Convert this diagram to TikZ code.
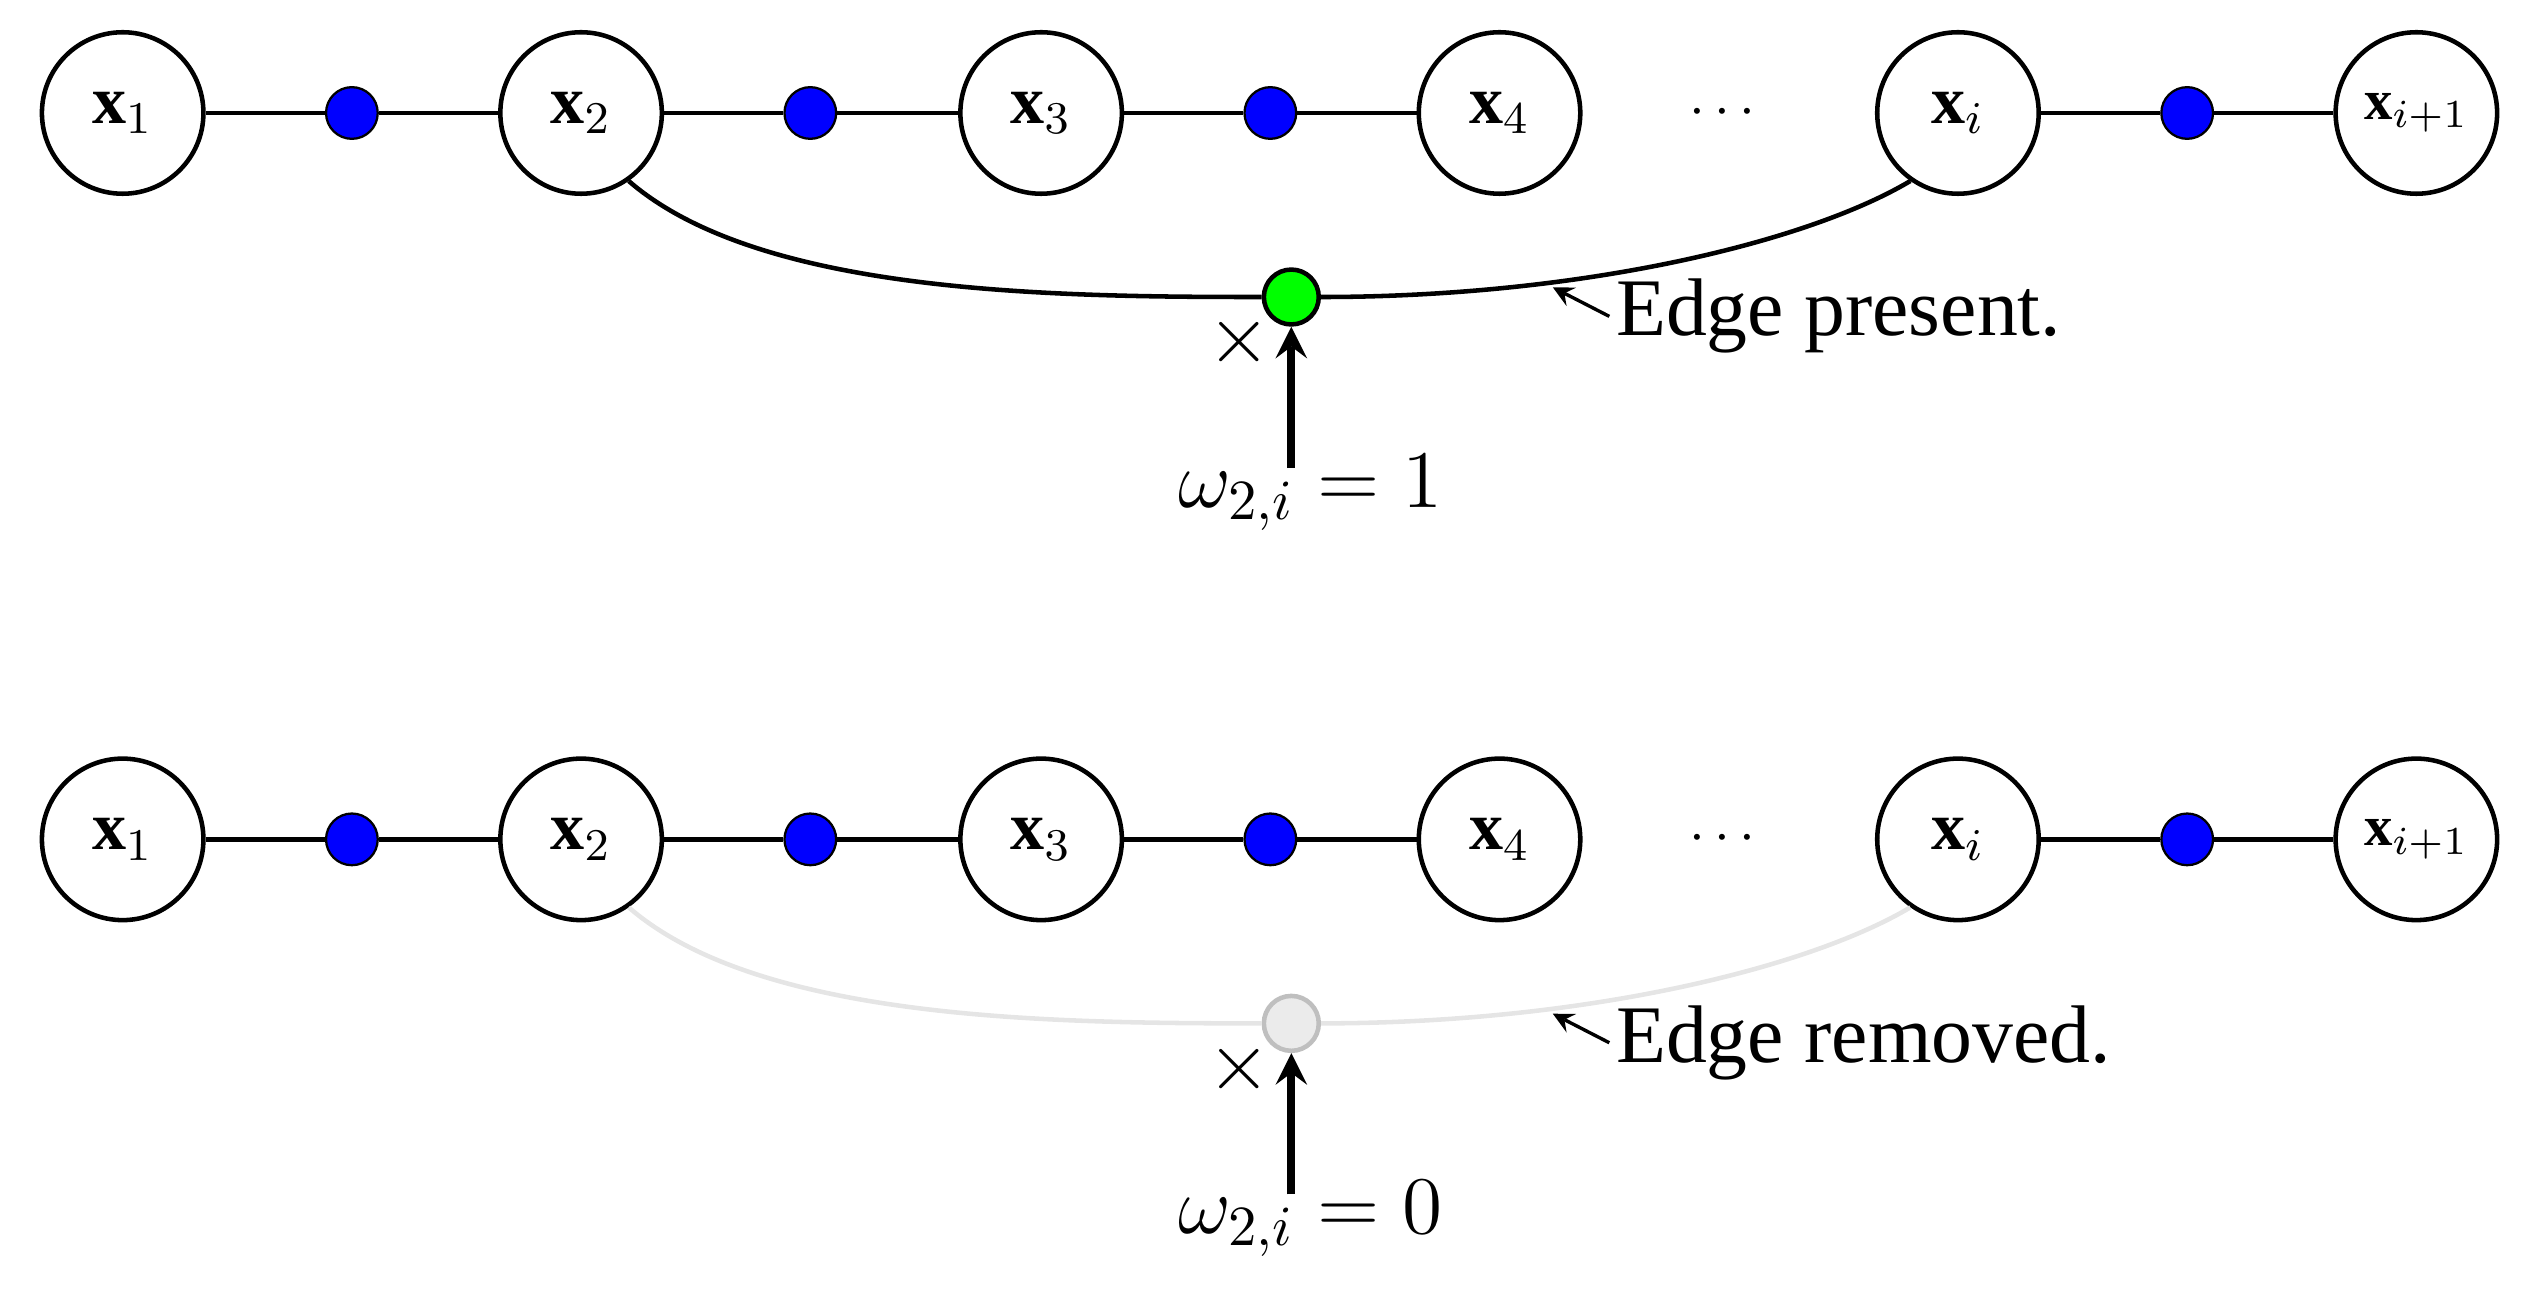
\documentclass[tikz,border=0pt]{standalone}
\usepackage{amsmath}
\usepackage{fontspec}
\setmainfont{Liberation Serif}
\begin{document}
\begin{tikzpicture}[x=0.01cm,y=-0.01cm,
  big/.style={circle,draw,thick,minimum size=1.0cm,inner sep=0pt,font=\large},
  sm/.style={circle,draw,fill=blue,minimum size=0.32cm,inner sep=0pt},
  lbl/.style={font=\Large,anchor=west,inner sep=1pt},
  ln/.style={thick}]
\useasboundingbox (0,0) rectangle (1568,800);
\foreach \r/\yy/\col/\ec/\dc/\lab/\val in {t/70/green/black/black/Edge present./1, b/520/black!8/black!10/black!25/Edge removed./0}{
  \node[big] (\r1) at (76,\yy) {$\mathbf{x}_1$};
  \node[big] (\r2) at (360,\yy) {$\mathbf{x}_2$};
  \node[big] (\r3) at (645,\yy) {$\mathbf{x}_3$};
  \node[big] (\r4) at (929,\yy) {$\mathbf{x}_4$};
  \node[font=\normalsize] (\r d) at (1070,\yy) {$\cdots$};
  \node[big] (\r i) at (1213,\yy) {$\mathbf{x}_i$};
  \node[big,font=\normalsize] (\r j) at (1497,\yy) {$\mathbf{x}_{i+1}$};
  \node[sm] (\r a) at (218,\yy) {};
  \node[sm] (\r b) at (502,\yy) {};
  \node[sm] (\r c) at (787,\yy) {};
  \node[sm] (\r e) at (1355,\yy) {};
  \draw[ln] (\r1)--(\r a)--(\r2)--(\r b)--(\r3)--(\r c)--(\r4);
  \draw[ln] (\r i)--(\r e)--(\r j);
  \node[circle,draw=\dc,fill=\col,thick,minimum size=0.34cm,inner sep=0pt] (\r g) at (800,\yy+114) {};
  \draw[ln,draw=\ec] (\r2.-55) .. controls (470,\yy+112) and (650,\yy+114) .. (\r g.west);
  \draw[ln,draw=\ec] (\r g.east) .. controls (980,\yy+114) and (1120,\yy+80) .. (\r i.-125);
  \coordinate (\r p) at (962,\yy+108);
  \node[lbl] (\r t) at (997,\yy+126) {\lab};
  \draw[->,>=stealth,semithick] (\r t.west) -- (\r p);
  \node[font=\Large] (\r x) at (768,\yy+142) {$\times$};
  \node[font=\Large] (\r w) at (812,\yy+235) {$\omega_{2,i}=\val$};
  \draw[->,>=stealth,line width=1.4pt] (800,\yy+220) -- (\r g.south);
}
\end{tikzpicture}
\end{document}
